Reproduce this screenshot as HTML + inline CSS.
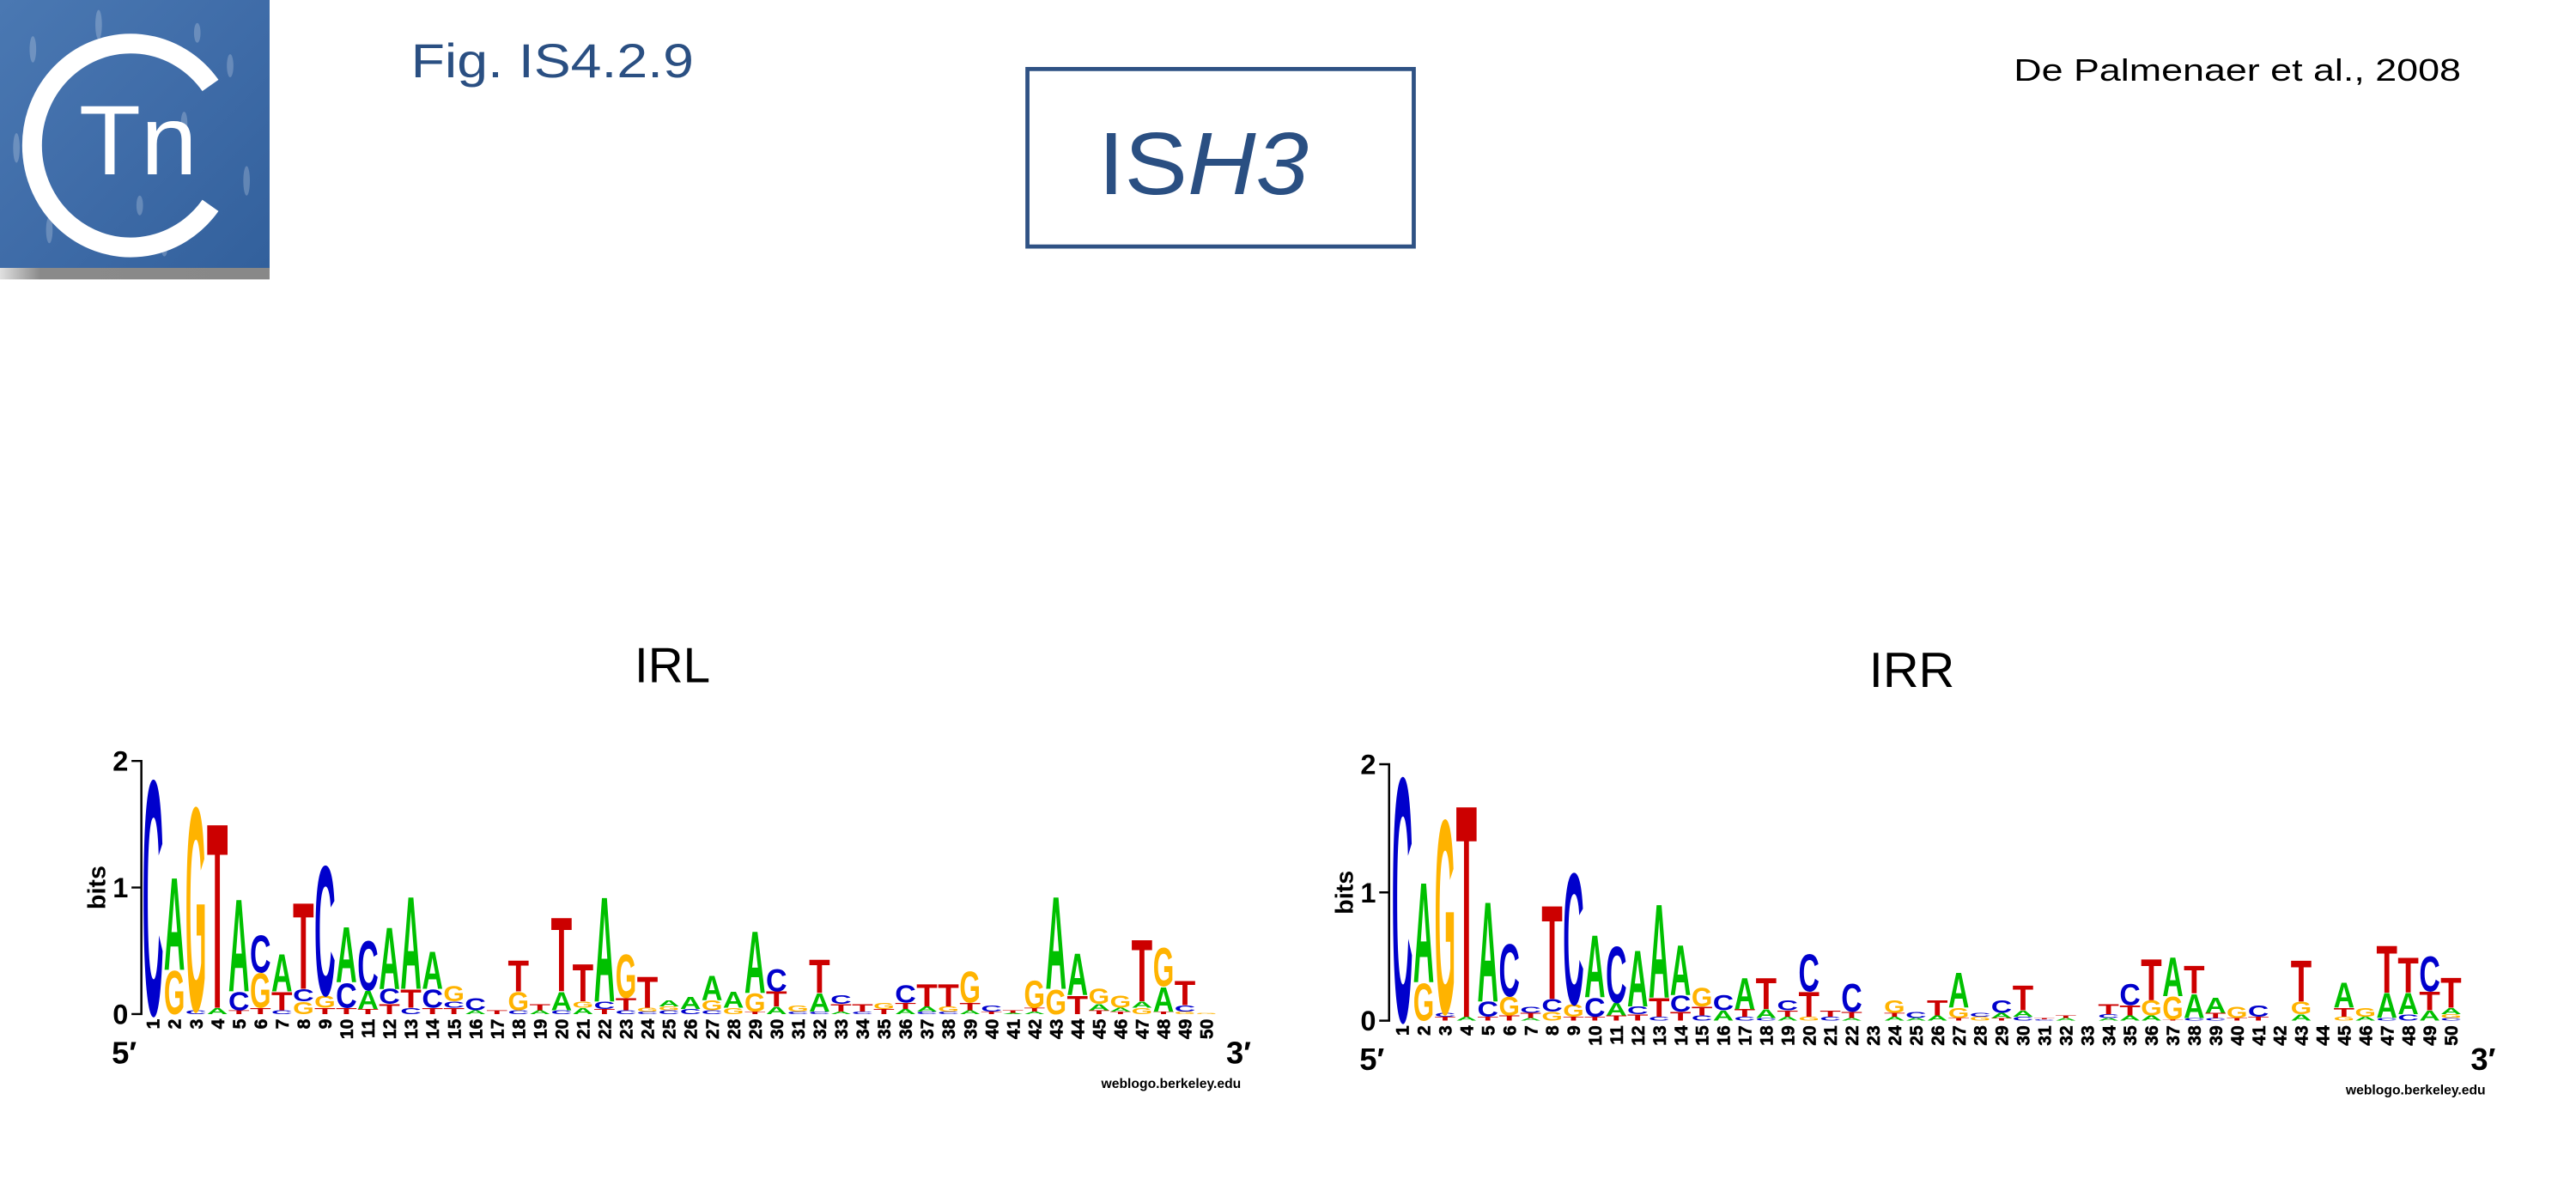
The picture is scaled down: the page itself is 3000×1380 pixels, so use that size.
<!DOCTYPE html>
<html><head><meta charset="utf-8"><style>
html,body{margin:0;padding:0;background:#fff;}
svg{display:block;}
</style></head><body>
<svg id="s" width="3000" height="1380" viewBox="0 0 1567 721" preserveAspectRatio="none" xmlns="http://www.w3.org/2000/svg" font-family="Liberation Sans, sans-serif">
<defs>
<linearGradient id="bg" x1="0" y1="0" x2="1" y2="1">
<stop offset="0" stop-color="#4a78b2"/><stop offset="0.5" stop-color="#3f6ca8"/><stop offset="1" stop-color="#32609c"/>
</linearGradient>
<linearGradient id="sh" x1="0" y1="0" x2="1" y2="0">
<stop offset="0" stop-color="#e0e0e0"/><stop offset="0.15" stop-color="#8a8a8a"/><stop offset="1" stop-color="#888"/>
</linearGradient>
</defs>
<rect x="0" y="0" width="164" height="164" fill="url(#bg)"/>
<g fill="#ffffff" opacity="0.22">
<ellipse cx="20" cy="30" rx="2" ry="8"/><ellipse cx="60" cy="15" rx="2" ry="9"/><ellipse cx="140" cy="40" rx="2" ry="7"/>
<ellipse cx="150" cy="110" rx="2" ry="9"/><ellipse cx="30" cy="140" rx="2" ry="8"/><ellipse cx="100" cy="150" rx="2" ry="6"/>
<ellipse cx="120" cy="20" rx="2" ry="6"/><ellipse cx="10" cy="90" rx="2" ry="9"/><ellipse cx="85" cy="125" rx="2" ry="6"/>
<ellipse cx="112" cy="75" rx="2" ry="7"/>
</g>
<rect x="0" y="163" width="164" height="7" fill="url(#sh)"/>
<path d="M128 52 A60 62 0 1 0 128 125" fill="none" stroke="#fff" stroke-width="12"/>
<text x="48" y="106" font-size="60" fill="#fff" textLength="72" lengthAdjust="spacingAndGlyphs">Tn</text>

<text x="250" y="47" font-size="29" fill="#2a4f82" textLength="172" lengthAdjust="spacingAndGlyphs">Fig. IS4.2.9</text>
<text x="1225" y="49" font-size="19" fill="#000" textLength="272" lengthAdjust="spacingAndGlyphs">De Palmenaer et al., 2008</text>
<rect x="625" y="42" width="235" height="108" fill="none" stroke="#2f5284" stroke-width="2.5"/>
<text x="668" y="118" font-size="54" fill="#2a4f82" textLength="128" lengthAdjust="spacingAndGlyphs">IS<tspan font-style="italic">H3</tspan></text>
<text x="409" y="415" font-size="30" text-anchor="middle" textLength="46" lengthAdjust="spacingAndGlyphs">IRL</text>
<text x="1163" y="418" font-size="30" text-anchor="middle" textLength="52" lengthAdjust="spacingAndGlyphs">IRR</text>
<g id="logos"></g>
</svg>
<script>
var IRL=[
"C1.9","G.35 A.75","C.03 G1.65","A.05 T1.5","T.03 C.15 A.75","T.05 G.28 C.3","C.03 T.15 A.3","G.1 C.1 T.7","T.05 G.1 C1.05","T.05 C.2 A.45",
"T.04 A.15 C.4","T.08 C.12 A.5","C.05 T.15 A.75","T.05 C.15 A.3","T.05 C.05 G.12","A.03 C.1","T.03","C.03 G.15 T.25","A.03 T.05","C.03 A.15 T.6",
"A.05 G.05 T.3","T.04 C.06 A.85","C.03 T.1 G.35","C.02 G.03 T.25","C.03 G.03 A.05","C.04 A.1","C.03 G.08 A.2","G.05 A.13","T.02 G.15 A.5","A.06 T.12 C.18",
"C.02 G.05","C.02 A.15 T.27","A.02 T.06 C.07","C.02 T.06","T.04 G.05","A.04 T.05 C.14","C.02 A.04 T.18","C.02 G.04 T.18","A.03 T.06 G.25","T.02 C.05",
"A.01 T.02","A.02 T.03 G.22","G.2 A.75","T.15 A.34","T.03 A.05 G.12","T.02 A.03 G.1","G.05 A.05 T.5","T.02 A.2 G.31","G.02 C.05 T.2","G.01"];
var IRR=[
"C1.95","G.3 A.8","T.03 C.03 G1.55","A.03 T1.7","T.03 C.12 A.8","T.04 G.15 C.42","A.02 T.04 C.05","G.07 C.1 T.75","T.03 G.1 C1.05","T.03 C.15 A.5",
"T.04 A.1 C.45","T.05 C.06 A.45","C.03 T.15 A.75","T.07 C.13 A.4","C.04 T.07 G.15","A.08 C.12","C.03 T.06 A.25","C.02 A.07 T.25","A.03 T.05 C.08","G.03 T.2 C.3",
"C.03 T.05","A.02 T.05 C.22","","A.03 T.03 G.1","A.02 C.05","A.04 T.12","T.02 G.08 A.28","G.03 C.03","T.02 A.04 C.1","C.03 A.05 T.2",
"C.01 T.01","A.02 T.02","","A.02 C.03 T.08","A.04 T.08 C.17","A.04 G.12 T.33","T.01 G.18 A.31","C.02 A.19 T.22","C.02 T.04 A.12","T.02 G.09",
"T.03 C.09","","A.05 G.1 T.33","","G.03 T.07 A.2","A.03 G.07","C.02 A.2 T.38","C.05 A.17 T.28","A.08 T.15 C.28","C.02 G.03 A.05 T.24"];
var COL={A:"#00c000",C:"#0000cc",G:"#ffb300",T:"#cc0000"};
var out="";
function logo(data,ax,x1,step,y0,y2){
  var bit=(y0-y2)/2, w=step*0.98;
  out+='<path d="M'+(ax-6)+' '+y2+'H'+ax+'V'+y0+'H'+(ax-6)+'M'+(ax-6)+' '+((y0+y2)/2)+'H'+ax+'" fill="none" stroke="#000" stroke-width="1.3"/>';
  [[2,y2],[1,(y0+y2)/2],[0,y0]].forEach(function(t){out+='<text x="'+(ax-8)+'" y="'+(t[1]+6)+'" font-size="17" font-weight="bold" text-anchor="end">'+t[0]+'</text>';});
  out+='<text transform="translate('+(ax-22)+','+((y0+y2)/2)+') rotate(-90)" font-size="15" font-weight="bold" text-anchor="middle">bits</text>';
  out+='<text x="'+(ax-18)+'" y="'+(y0+30)+'" font-size="19" font-weight="bold">5′</text>';
  var xe=x1+49*step;
  out+='<text x="'+(xe+12)+'" y="'+(y0+30)+'" font-size="19" font-weight="bold">3′</text>';
  out+='<text x="'+(xe+21)+'" y="'+(y0+45)+'" font-size="8" font-weight="bold" text-anchor="end" textLength="85" lengthAdjust="spacingAndGlyphs">weblogo.berkeley.edu</text>';
  for(var i=0;i<50;i++){
    var cx=x1+i*step, y=y0;
    out+='<text transform="translate('+(cx+4)+','+(y0+3)+') rotate(-90)" font-size="11" font-weight="bold" text-anchor="end" stroke="#000" stroke-width="0.3">'+(i+1)+'</text>';
    if(!data[i])continue;
    data[i].split(" ").forEach(function(s){
      var L=s[0],h=parseFloat(s.slice(1))*bit;
      if(h<0.3)return;
      out+='<text transform="translate('+(cx-w/2)+','+y+') scale(1,'+(h/71.6)+')" font-size="100" font-weight="bold" fill="'+COL[L]+'" textLength="'+w+'" lengthAdjust="spacingAndGlyphs">'+L+'</text>';
      y-=h;
    });
  }
}
logo(IRL,86,93,13.08,617,463);
logo(IRR,845,853,13.02,621,465);
document.getElementById("logos").innerHTML=out;
</script>
</body></html>
